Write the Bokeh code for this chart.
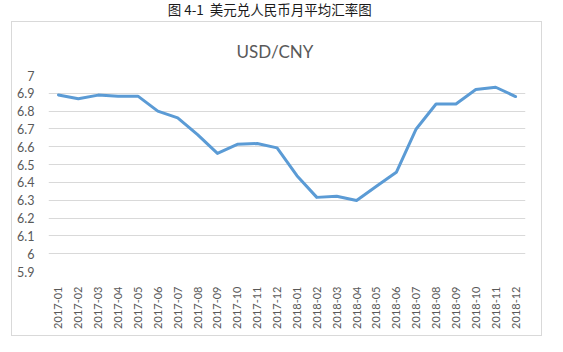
import math
from bokeh.plotting import figure
from bokeh.layouts import column
from bokeh.models import FixedTicker, CustomJSTickFormatter, Label
from bokeh.embed import file_html
from bokeh.resources import INLINE

months = ["2017-01", "2017-02", "2017-03", "2017-04", "2017-05", "2017-06",
          "2017-07", "2017-08", "2017-09", "2017-10", "2017-11", "2017-12",
          "2018-01", "2018-02", "2018-03", "2018-04", "2018-05", "2018-06",
          "2018-07", "2018-08", "2018-09", "2018-10", "2018-11", "2018-12"]
rates = [6.891, 6.869, 6.890, 6.884, 6.884, 6.800,
         6.762, 6.668, 6.563, 6.614, 6.618, 6.594,
         6.438, 6.316, 6.322, 6.298, 6.378, 6.457,
         6.700, 6.840, 6.840, 6.921, 6.934, 6.882]
y_ticks = [5.9, 6.0, 6.1, 6.2, 6.3, 6.4, 6.5, 6.6, 6.7, 6.8, 6.9, 7.0]
title_text = "USD/CNY"
caption_text = "图\u00a04-1\u00a0\u00a0美元兑人民币月平均汇率图"

# caption strip above the chart box
cap = figure(width=563, height=21, x_range=(0, 563), y_range=(0, 21),
             output_backend="svg", toolbar_location=None,
             min_border=0, x_axis_type=None, y_axis_type=None)
cap.outline_line_color = None
cap.grid.visible = False
cap.add_layout(Label(x=258, y=12.5, text=caption_text, text_align="center",
                     text_baseline="middle", text_font="Noto Sans CJK SC",
                     text_font_size="13.5px", text_color="#1a1a1a"))

# main chart (inside a light grey box)
p = figure(width=531, height=315, x_range=months, y_range=(5.9, 7.0),
           output_backend="svg", toolbar_location=None,
           min_border_left=36, min_border_right=18,
           min_border_top=53, min_border_bottom=66,
           title=title_text, margin=(0, 0, 0, 11),
           styles={"border": "1px solid #d9d9d9"})
p.outline_line_color = None
p.title.align = "left"
p.title.offset = 188
p.title.standoff = 28
p.title.text_font = "Lato"
p.title.text_font_style = "normal"
p.title.text_font_size = "17px"
p.title.text_color = "#595959"

p.line(months, rates, line_color="#5b9bd5", line_width=3, line_join="round", line_cap="round")

p.yaxis.ticker = FixedTicker(ticks=y_ticks)
p.yaxis.formatter = CustomJSTickFormatter(code="return tick.toFixed(1).replace(/\\.0$/, '');")
p.xgrid.grid_line_color = None
p.ygrid.grid_line_color = "#d9d9d9"
p.ygrid.grid_line_width = 1

for ax in (p.xaxis, p.yaxis):
    ax.axis_line_color = None
    ax.major_tick_line_color = None
    ax.minor_tick_line_color = None
    ax.major_label_text_color = "#595959"
    ax.major_label_text_font = "Lato"

p.yaxis.major_label_text_font_size = "12.5px"
p.yaxis.major_label_standoff = 8
p.xaxis.major_label_text_font_size = "11px"
p.xaxis.major_label_orientation = math.pi / 2
p.xaxis.major_label_standoff = 9
p.x_range.range_padding = 0

layout = column(cap, p, spacing=0)
open("out.html", "w").write(file_html(layout, INLINE))
